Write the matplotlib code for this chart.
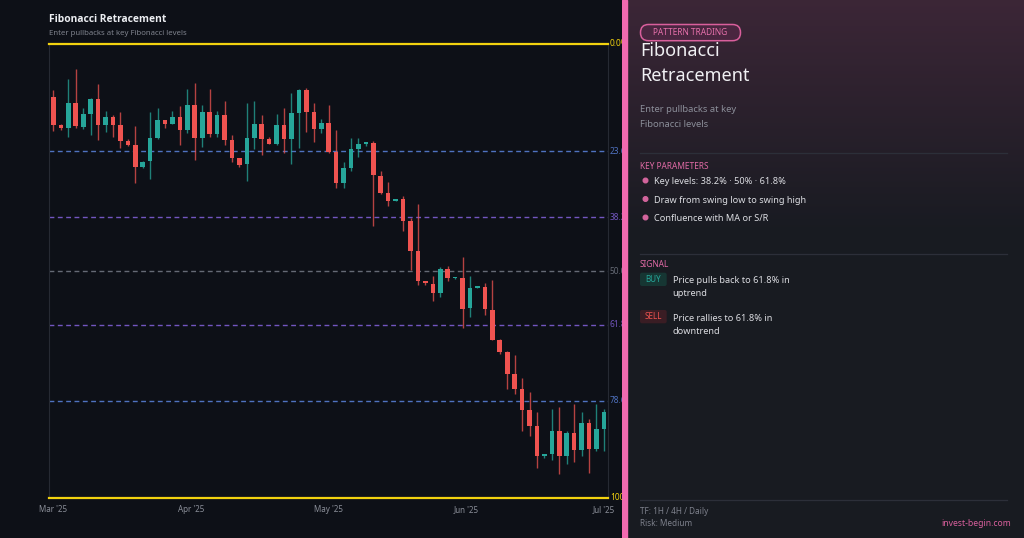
import numpy as np
import matplotlib
matplotlib.use("Agg")
import matplotlib.pyplot as plt
from matplotlib.patches import FancyBboxPatch, Rectangle, Circle

plt.rcParams["font.family"] = ["Noto Sans", "DejaVu Sans"]

# daily candles, swing high 200 -> swing low 100
opens = [188.3, 182.1, 181.5, 186.9, 181.8, 184.6, 187.9, 182.1, 184.0, 182.2,
         178.7, 177.8, 173.0, 174.2, 179.4, 183.2, 182.4, 184.0, 181.0, 186.5,
         179.4, 185.1, 180.2, 184.3, 178.8, 174.9, 173.5, 179.3, 182.4, 179.0,
         178.0, 182.2, 179.0, 184.8, 189.8, 185.0, 181.2, 182.7, 176.3, 169.4,
         172.7, 176.8, 178.0, 178.1, 171.0, 167.2, 165.5, 165.8, 161.1, 154.3,
         147.8, 147.2, 145.2, 150.4, 148.4, 148.5, 141.8, 146.3, 146.5, 141.5,
         134.9, 132.1, 127.3, 124.0, 119.3, 115.9, 109.3, 109.6, 114.8, 109.2,
         114.4, 110.5, 116.6, 110.9, 115.2]
highs = [189.8, 182.4, 192.3, 194.6, 186.0, 188.2, 191.2, 185.3, 184.3, 185.1,
         179.1, 182.0, 174.3, 185.0, 185.8, 183.3, 185.2, 186.4, 190.1, 191.5,
         186.5, 190.1, 185.2, 187.4, 179.9, 174.9, 187.1, 187.4, 184.3, 179.6,
         184.6, 185.8, 189.3, 190.1, 190.3, 187.1, 183.5, 186.5, 181.1, 174.0,
         179.3, 179.3, 178.5, 178.6, 172.1, 169.7, 165.8, 166.5, 161.6, 164.8,
         147.9, 148.8, 150.9, 151.2, 148.7, 153.1, 149.0, 146.6, 147.4, 148.0,
         135.0, 132.4, 131.6, 126.5, 123.4, 118.9, 109.6, 119.7, 120.0, 114.8,
         120.6, 118.9, 117.4, 120.6, 119.7]
lows = [180.9, 181.0, 179.5, 181.6, 181.2, 179.9, 178.9, 180.7, 179.6, 177.2,
        177.6, 169.4, 172.7, 170.3, 179.1, 181.4, 182.3, 177.7, 180.5, 174.5,
        177.4, 179.6, 179.6, 177.7, 174.0, 172.9, 169.9, 176.8, 175.6, 177.9,
        177.8, 176.0, 173.6, 177.1, 180.7, 178.5, 180.5, 175.9, 168.3, 168.3,
        172.1, 175.2, 177.6, 160.0, 167.0, 164.4, 165.4, 158.9, 150.2, 147.0,
        147.0, 143.5, 144.3, 147.9, 148.3, 137.4, 139.8, 146.2, 140.3, 134.8,
        131.7, 123.9, 122.8, 114.8, 113.6, 106.5, 108.9, 108.4, 105.3, 107.4,
        107.9, 109.3, 105.6, 110.4, 110.4]
closes = [182.1, 181.5, 186.9, 181.9, 184.6, 187.9, 182.1, 184.0, 182.2, 178.7,
          177.8, 173.0, 174.1, 179.4, 183.2, 182.4, 184.0, 181.0, 186.5, 179.4,
          185.1, 180.2, 184.3, 178.8, 174.9, 173.4, 179.3, 182.4, 179.0, 178.0,
          182.2, 179.0, 184.8, 189.8, 185.0, 181.2, 182.7, 176.3, 169.4, 172.7,
          176.8, 177.9, 178.2, 171.1, 167.2, 165.5, 165.7, 161.1, 154.4, 147.7,
          147.3, 145.2, 150.4, 148.5, 148.6, 141.7, 146.3, 146.5, 141.6, 134.9,
          132.2, 127.3, 124.0, 119.4, 115.9, 109.3, 109.5, 114.8, 109.2, 114.4,
          110.5, 116.6, 110.9, 115.1, 119.0]

month_labels = ["Mar '25", "Apr '25", "May '25", "Jun '25", "Jul '25"]

swing_high = 200.0
swing_low = 100.0
fib_levels = [0.0, 23.6, 38.2, 50.0, 61.8, 78.6, 100.0]
fib_texts = ["0.0%", "23.6%", "38.2%", "50.0%", "61.8%", "78.6%", "100%"]
fib_colors = ["#f2d20f", "#4f72c0", "#7356c0", "#656a75", "#7356c0", "#4f72c0", "#f2d20f"]

UP = "#26a69a"
DOWN = "#ef5350"
BG = "#0d1017"

W, H = 1024, 538
fig = plt.figure(figsize=(W / 100, H / 100), dpi=100, facecolor=BG)


def fx(px):
    return px / W


def fy(py):
    return 1 - py / H


# ---- chart ----
ax = fig.add_axes([fx(49), fy(498), fx(608) - fx(49), fy(44) - fy(498)])
ax.set_facecolor(BG)
n = len(opens)
x = np.arange(n)
o = np.array(opens)
c = np.array(closes)
hi = np.array(highs)
lo = np.array(lows)
colors = [UP if cc >= oo else DOWN for oo, cc in zip(o, c)]

ax.vlines(x, lo, hi, colors=colors, linewidth=1.0, alpha=0.75, zorder=3)
bottoms = np.minimum(o, c)
heights = np.maximum(np.abs(c - o), 0.35)
ax.bar(x, heights, bottom=bottoms, width=0.62, color=colors, linewidth=0, zorder=4)

for lvl, txt, col in zip(fib_levels, fib_texts, fib_colors):
    price = swing_high - (swing_high - swing_low) * lvl / 100
    if lvl in (0.0, 100.0):
        ax.axhline(price, color=col, linewidth=1.6, zorder=5, clip_on=False)
    else:
        ax.axhline(price, color=col, linewidth=1.0, linestyle=(0, (3.5, 2.5)), zorder=2)
    ax.text(n - 0.6 + 0.4, price, txt, color=col, fontsize=6, va="center", ha="left",
            clip_on=False)

ax.set_xlim(-0.6, n - 0.45)
ax.set_ylim(swing_low, swing_high)
ax.set_xticks(np.linspace(0, n - 1, len(month_labels)))
ax.set_xticklabels(month_labels)
ax.set_yticks([])
ax.tick_params(axis="x", length=0, colors="#8a8e98", labelsize=5.8, pad=5)
for s in ["top", "bottom"]:
    ax.spines[s].set_visible(False)
for s in ["left", "right"]:
    ax.spines[s].set_color("#262a33")
    ax.spines[s].set_linewidth(0.8)

fig.text(fx(49), fy(22), "Fibonacci Retracement", color="#eceef2", fontsize=7.4,
         fontweight="bold", family=["Open Sans", "Noto Sans"], va="baseline")
fig.text(fx(49), fy(35), "Enter pullbacks at key Fibonacci levels", color="#7f838d",
         fontsize=5.6, va="baseline")

# ---- side panel ----
pan = fig.add_axes([fx(622), 0, 1 - fx(622), 1], zorder=10)
pan.set_xlim(622, W)
pan.set_ylim(H, 0)
pan.axis("off")
top = np.array([0.235, 0.150, 0.215])
bot = np.array([0.098, 0.106, 0.133])
t = np.clip(np.linspace(0, 1, 300) / 0.42, 0, 1)[:, None]
grad = (top * (1 - t) + bot * t)[:, None, :]
pan.imshow(grad, extent=[622, W, H, 0], aspect="auto", zorder=0)
pan.add_patch(Rectangle((622, 0), 5, H, color="#f16ab0", zorder=1))

pan.add_patch(FancyBboxPatch((640.5, 24.5), 100, 16.2, boxstyle="round,pad=0,rounding_size=8",
                             facecolor="#4a2640", edgecolor="#d95f9c", linewidth=1.1, zorder=2))
pan.text(690.5, 32.8, "PATTERN TRADING", color="#e670ab", fontsize=6, ha="center",
         va="center", zorder=3)

pan.text(640, 56, "Fibonacci", color="#f0f0f3", fontsize=13, va="baseline", zorder=3)
pan.text(640, 81, "Retracement", color="#f0f0f3", fontsize=13, va="baseline", zorder=3)
pan.text(640, 111.5, "Enter pullbacks at key", color="#8b8e99", fontsize=6.8, va="baseline", zorder=3)
pan.text(640, 127, "Fibonacci levels", color="#8b8e99", fontsize=6.8, va="baseline", zorder=3)

for yy in (153, 254, 500):
    pan.plot([640, 1007], [yy, yy], color="#2c2f39", linewidth=0.9, zorder=2)

pan.text(640, 168.7, "KEY PARAMETERS", color="#e06aa5", fontsize=6,
         va="baseline", zorder=3)
bullets = ["Key levels: 38.2% · 50% · 61.8%", "Draw from swing low to swing high",
           "Confluence with MA or S/R"]
for i, b in enumerate(bullets):
    yb = 184.3 + i * 18.5
    pan.add_patch(Circle((645.5, yb - 3.8), 2.3, color="#d2649c", zorder=3))
    pan.text(653.5, yb, b, color="#dcdde2", fontsize=6.6, va="baseline", zorder=3)

pan.text(640, 267.3, "SIGNAL", color="#e06aa5", fontsize=6, va="baseline", zorder=3)
pan.add_patch(FancyBboxPatch((640, 272.7), 26.7, 13.3, boxstyle="round,pad=0,rounding_size=2",
                             facecolor="#163633", edgecolor="none", zorder=2))
pan.text(653.3, 279.6, "BUY", color="#26a69a", fontsize=5.8, ha="center", va="center", zorder=3)
pan.text(672.7, 283.3, "Price pulls back to 61.8% in", color="#dcdde2", fontsize=6.6,
         va="baseline", zorder=3)
pan.text(672.7, 296.5, "uptrend", color="#dcdde2", fontsize=6.6, va="baseline", zorder=3)

pan.add_patch(FancyBboxPatch((640, 310), 26.7, 13.3, boxstyle="round,pad=0,rounding_size=2",
                             facecolor="#3a1d24", edgecolor="none", zorder=2))
pan.text(653.3, 316.9, "SELL", color="#ef5350", fontsize=5.8, ha="center", va="center", zorder=3)
pan.text(672.7, 320.7, "Price rallies to 61.8% in", color="#dcdde2", fontsize=6.6,
         va="baseline", zorder=3)
pan.text(672.7, 333.8, "downtrend", color="#dcdde2", fontsize=6.6, va="baseline", zorder=3)

pan.text(640, 513.7, "TF: 1H / 4H / Daily", color="#7d808b", fontsize=5.9, va="baseline", zorder=3)
pan.text(640, 525.5, "Risk: Medium", color="#7d808b", fontsize=5.9, va="baseline", zorder=3)
pan.text(1011, 525.5, "invest-begin.com", color="#d9609d", fontsize=6.2, ha="right",
         va="baseline", zorder=3)

fig.savefig("out.png", dpi=100, facecolor=BG)
